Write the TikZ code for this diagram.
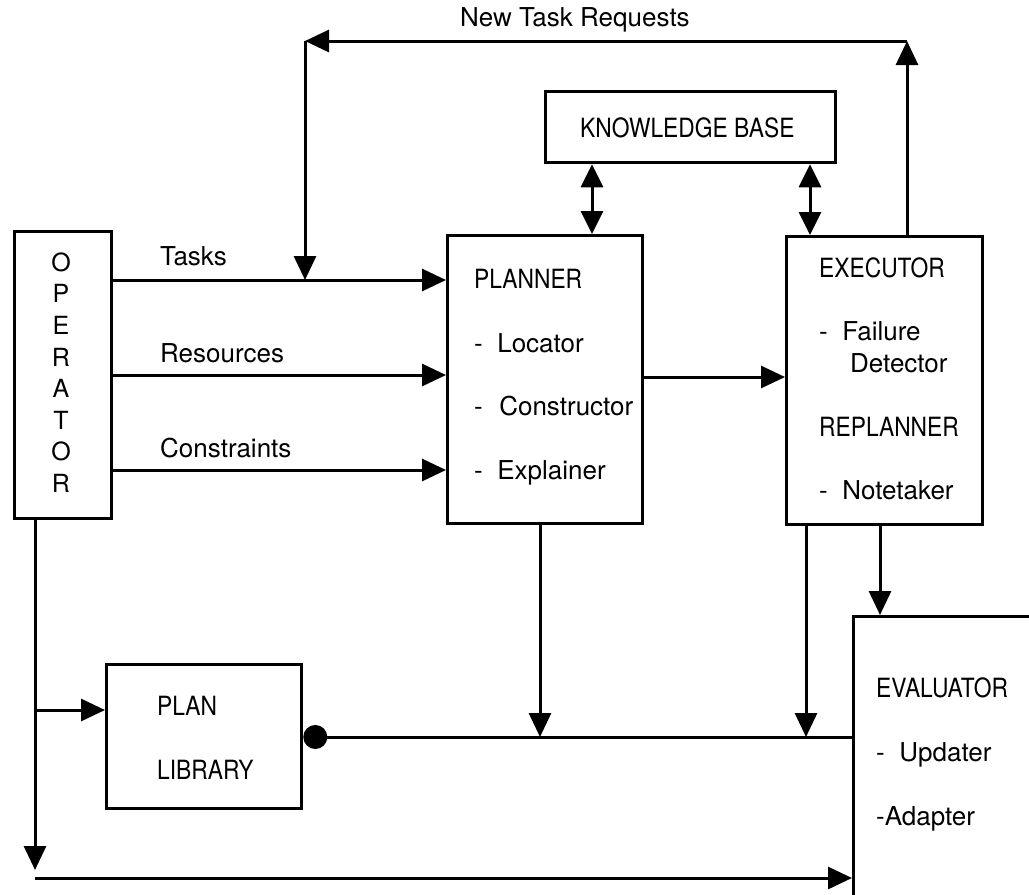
\documentclass[tikz,border=0pt]{standalone}
\usepackage{fontspec}
\setmainfont{TeX Gyre Heros}
\newfontfamily\capsfont[FakeStretch=0.86]{TeX Gyre Heros}
\usetikzlibrary{arrows.meta}
\begin{document}
\begin{tikzpicture}[x=1pt,y=-1pt,
  box/.style={draw, line width=3.3pt, inner sep=0pt, anchor=north west},
  conn/.style={line width=3pt},
  arr/.style={conn, -{Triangle[length=24pt,width=22pt]}},
  darr/.style={conn, {Triangle[length=23pt,width=22pt]}-{Triangle[length=23pt,width=22pt]}},
  lbl/.style={anchor=base west, inner sep=0pt, font=\fontsize{26}{30}\selectfont},
  caps/.style={anchor=base west, inner sep=0pt, font=\capsfont\fontsize{26.5}{30}\selectfont},
]
\useasboundingbox (0,0) rectangle (1029,895);
\clip (0,0) rectangle (1029,895);

% boxes
\node[box, minimum width=97pt, minimum height=287pt] (op) at (13,230) {};
\node[box, minimum width=290pt, minimum height=71pt] (kb) at (544,90) {};
\node[box, minimum width=195pt, minimum height=288pt] (planner) at (446,234) {};
\node[box, minimum width=196pt, minimum height=288pt] (exec) at (785,235) {};
\node[box, minimum width=195pt, minimum height=144pt] (lib) at (105,663) {};
\node[box, minimum width=300pt, minimum height=400pt] (eval) at (852,615) {};

% texts
\node[lbl] (ntr) at (460,26) {New Task Requests};
\node[lbl] (ltasks) at (160,265) {Tasks};
\node[lbl] (lres) at (160,362) {Resources};
\node[lbl] (lcons) at (160,457) {Constraints};
\node[align=center, inner sep=0pt, font=\fontsize{25}{31.6}\selectfont] (optext) at (61,372.5)
  {O\\P\\E\\R\\A\\T\\O\\R};
\node[caps] (kbt) at (580,137) {KNOWLEDGE BASE};
\node[caps] (plt) at (474,288) {PLANNER};
\node[lbl] (loc) at (474,352) {-\ \ Locator};
\node[lbl] (con) at (474,415) {-\ \ \kern2pt Constructor};
\node[lbl] (expl) at (474,479) {-\ \ Explainer};
\node[caps] (ext) at (819,277) {EXECUTOR};
\node[lbl] (fail) at (819,340) {-\ \ Failure};
\node[lbl] (det) at (850,372) {Detector};
\node[caps] (rep) at (819,436) {REPLANNER};
\node[lbl] (note) at (819,499) {-\ \ Notetaker};
\node[caps] (plan) at (157,715) {PLAN};
\node[caps] (libr) at (157,779) {LIBRARY};
\node[caps] (evt) at (876,697) {EVALUATOR};
\node[lbl] (upd) at (876,761) {-\ \ Updater};
\node[lbl] (ada) at (876,825) {-Adapter};

% coordinates
\coordinate (tl) at (305,41);
\coordinate (tr) at (907,41);
\coordinate (yT) at (0,280);
\coordinate (yR) at (0,375);
\coordinate (yC) at (0,470);
\coordinate (yPE) at (0,377);
\coordinate (kbx1) at (592,0);
\coordinate (kbx2) at (810,0);
\coordinate (yF) at (0,737);
\coordinate (px) at (540,0);
\coordinate (ex1) at (806,0);
\coordinate (ex2) at (880,0);
\coordinate (ob) at (35,870);
\coordinate (bl) at (35,878);
\coordinate (ol) at (35,710);

% connectors
\draw[arr] (exec.north-|tr) -- (tr);
\draw[arr] (tr) -- (tl);
\draw[arr] (tl) -- (tl|-yT);
\draw[arr] (op.east|-yT) -- (planner.west|-yT);
\draw[arr] (op.east|-yR) -- (planner.west|-yR);
\draw[arr] (op.east|-yC) -- (planner.west|-yC);
\draw[darr] (kb.south-|kbx1) -- (planner.north-|kbx1);
\draw[darr] (kb.south-|kbx2) -- (exec.north-|kbx2);
\draw[arr] (planner.east|-yPE) -- (exec.west|-yPE);
\draw[arr] (planner.south-|px) -- (px|-yF);
\draw[arr] (exec.south-|ex1) -- (ex1|-yF);
\draw[arr] (exec.south-|ex2) -- (eval.north-|ex2);
\draw[conn, -{Circle[length=24pt,width=24pt]}] (eval.west|-yF) -- (lib.east|-yF);
\draw[arr] (op.south-|ob) -- (ob);
\draw[arr] (bl) -- (eval.west|-bl);
\draw[arr] (ol) -- (lib.west|-ol);
\end{tikzpicture}
\end{document}
